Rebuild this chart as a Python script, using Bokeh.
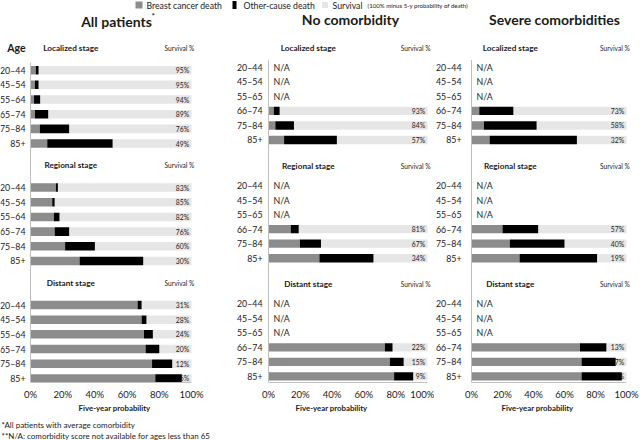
from bokeh.plotting import figure
from bokeh.layouts import column, row
from bokeh.models import Range1d, LinearAxis, FixedTicker, PrintfTickFormatter, ColumnDataSource
from bokeh.core.properties import value
from bokeh.embed import file_html
from bokeh.resources import INLINE

FONT = value("Lato")
TXT = "#1a1a1a"
C_BREAST = "#8c8c8c"
C_OTHER = "#000000"
C_SURV = "#e6e6e6"
C_AXIS = "#bfbfbf"

# ---------------- data ----------------
stages = ["Localized stage", "Regional stage", "Distant stage"]
ages_all = ["20–44", "45–54", "55–64", "65–74", "75–84", "85+"]
ages_com = ["20–44", "45–54", "55–65", "66–74", "75–84", "85+"]
ticks = [0, 20, 40, 60, 80, 100]

# All patients (Localized, Regional, Distant; 6 age groups each)
all_breast = [3.3, 2.8, 2.2, 2.8, 5.8, 10.4,
              15.8, 13.5, 14.5, 15.0, 21.5, 30.5,
              66.5, 69.0, 70.5, 71.5, 75.5, 77.5]
all_other = [1.7, 2.2, 3.8, 8.2, 18.2, 40.6,
             1.2, 1.5, 3.5, 9.0, 18.5, 39.5,
             2.5, 3.0, 5.5, 8.5, 12.5, 16.5]
all_survival = [95, 95, 94, 89, 76, 49,
                83, 85, 82, 76, 60, 30,
                31, 28, 24, 20, 12, 6]

# No comorbidity (None = N/A)
none_breast = [None, None, None, 3.3, 4.3, 9.8,
               None, None, None, 14.0, 19.8, 32.0,
               None, None, None, 73.2, 76.3, 79.0]
none_other = [None, None, None, 3.7, 11.7, 33.2,
              None, None, None, 5.0, 13.2, 34.0,
              None, None, None, 4.8, 8.7, 12.0]
none_survival = [None, None, None, 93, 84, 57,
                 None, None, None, 81, 67, 34,
                 None, None, None, 22, 15, 9]

# Severe comorbidities (None = N/A)
severe_breast = [None, None, None, 5.0, 8.0, 11.7,
                 None, None, None, 20.0, 24.7, 31.0,
                 None, None, None, 70.0, 71.0, 71.0]
severe_other = [None, None, None, 22.0, 34.0, 56.3,
                None, None, None, 23.0, 35.3, 50.0,
                None, None, None, 17.0, 22.0, 26.0]
severe_survival = [None, None, None, 73, 58, 32,
                   None, None, None, 57, 40, 19,
                   None, None, None, 13, 7, 3]

# ---------------- layout constants ----------------
HEAD_H = 30
PANEL_H = 385
FOOT_H = 25


def make_panel(ages, breast, other, survival, width, xs, xe, gap, show_age,
               y_top, y_bottom, stage_step, header_off, border_bottom):
    p = figure(width=width, height=PANEL_H, x_range=Range1d(xs, xe),
               y_range=Range1d(y_bottom, y_top), output_backend="svg",
               toolbar_location=None, x_axis_type=None, y_axis_type=None,
               min_border_left=0, min_border_right=0, min_border_top=0,
               min_border_bottom=border_bottom)
    p.outline_line_color = None
    p.background_fill_color = "white"

    ys_all, lab_all = [], []
    na_y = []
    bar = dict(y=[], b0=[], b1=[], o1=[], s1=[], lab=[])
    for s in range(3):
        for i in range(6):
            k = s * 6 + i
            y = s * stage_step + i
            ys_all.append(y)
            lab_all.append(ages[i])
            if breast[k] is None:
                na_y.append(y)
            else:
                b1 = breast[k]
                o1 = b1 + other[k]
                s1 = o1 + survival[k]
                bar["y"].append(y)
                bar["b0"].append(0)
                bar["b1"].append(b1)
                bar["o1"].append(o1)
                bar["s1"].append(s1)
                bar["lab"].append(f"{survival[k]}%")
    src = ColumnDataSource(bar)
    p.hbar(y="y", left="o1", right="s1", height=0.58, color=C_SURV, line_color=None, source=src)
    p.hbar(y="y", left="b0", right="b1", height=0.58, color=C_BREAST, line_color=None, source=src)
    p.hbar(y="y", left="b1", right="o1", height=0.58, color=C_OTHER, line_color=None, source=src)
    p.text(x=98.5, y="y", text="lab", source=src, text_font=FONT, text_font_size="6.8px",
           text_align="right", text_baseline="middle", text_color=TXT)

    # vertical axis line
    p.segment(x0=[0], y0=[-0.5], x1=[0], y1=[y_bottom], line_color=C_AXIS, line_width=1)

    # age labels
    p.text(x=[0] * len(ys_all), y=ys_all, text=lab_all, text_font=FONT, text_font_size="8.8px",
           text_align="right", text_baseline="middle", x_offset=-gap, text_color=TXT)
    if na_y:
        p.text(x=[0] * len(na_y), y=na_y, text=["N/A"] * len(na_y), text_font=FONT,
               text_font_size="8.8px", text_align="left", text_baseline="middle",
               x_offset=5, text_color=TXT)

    hy = [s * stage_step + header_off for s in range(3)]
    p.text(x=[25] * 3, y=hy, text=stages, text_font=FONT, text_font_size="8.2px",
           text_font_style="bold", text_align="center", text_baseline="middle", text_color=TXT)
    p.text(x=[92.5] * 3, y=hy, text=["Survival %"] * 3, text_font=FONT, text_font_size="6.6px",
           text_align="center", text_baseline="middle", text_color=TXT)
    if show_age:
        p.text(x=[0], y=[header_off], text=["Age"], text_font=FONT, text_font_size="10.5px",
               text_font_style="bold", text_align="right", text_baseline="middle",
               x_offset=-gap, text_color=TXT)

    ax = LinearAxis(ticker=FixedTicker(ticks=ticks), bounds=(0, 100),
                    formatter=PrintfTickFormatter(format="%d%%"),
                    major_tick_line_color=None, minor_tick_line_color=None,
                    major_tick_out=0, minor_tick_out=0, major_tick_in=0, minor_tick_in=0,
                    axis_line_color=C_AXIS, major_label_standoff=6,
                    major_label_text_font="Lato", major_label_text_font_size="9.5px",
                    major_label_text_color=TXT)
    p.add_layout(ax, "below")
    ax2 = LinearAxis(ticker=FixedTicker(ticks=[]), bounds=(0, 74),
                     major_tick_line_color=None, minor_tick_line_color=None,
                     major_tick_out=0, minor_tick_out=0, major_tick_in=0, minor_tick_in=0,
                     axis_line_color=None, major_label_standoff=0,
                     axis_label="Five-year probability", axis_label_standoff=0,
                     axis_label_text_font="Lato", axis_label_text_font_size="7.8px",
                     axis_label_text_font_style="bold", axis_label_text_color=TXT)
    p.add_layout(ax2, "below")
    return p


p1 = make_panel(ages_all, all_breast, all_other, all_survival, 228, -18.63, 122.98, 5, True,
                y_top=-2.703, y_bottom=21.28, stage_step=8.0, header_off=-1.52, border_bottom=30)
p2 = make_panel(ages_com, none_breast, none_other, none_survival, 206, -25.16, 104.4, 6, False,
                y_top=-2.543, y_bottom=21.72, stage_step=8.15, header_off=-1.35, border_bottom=32)
p3 = make_panel(ages_com, severe_breast, severe_other, severe_survival, 206, -23.87, 109.03, 10, False,
                y_top=-2.543, y_bottom=21.72, stage_step=8.15, header_off=-1.35, border_bottom=32)

# ---------------- header (legend + titles) ----------------
head = figure(width=640, height=HEAD_H, x_range=Range1d(0, 640), y_range=Range1d(HEAD_H, 0),
              output_backend="svg", toolbar_location=None, x_axis_type=None, y_axis_type=None,
              min_border=0)
head.outline_line_color = None
head.rect(x=[138.5, 234, 324.5], y=[4.5, 4.5, 4.5], width=[7, 4, 6], height=[7, 8, 6],
          color=[C_BREAST, C_OTHER, C_SURV], line_color=None)
head.text(x=[146, 243, 332], y=[4.5] * 3, text=["Breast cancer death", "Other-cause death", "Survival"],
          text_font=FONT, text_font_size="8.7px", text_baseline="middle", text_color=TXT)
head.text(x=[367], y=[5], text=["(100% minus 5-y probability of death)"],
          text_font=FONT, text_font_size="6.1px", text_baseline="middle", text_color=TXT)
head.text(x=[116, 350, 554], y=[21, 19, 19],
          text=["All patients", "No comorbidity", "Severe comorbidities"],
          text_font=FONT, text_font_size="14px", text_font_style="bold",
          text_align="center", text_baseline="middle", text_color=TXT)
head.text(x=[151], y=[15], text=["*"], text_font=FONT, text_font_size="8px",
          text_font_style="bold", text_baseline="middle", text_color=TXT)

# ---------------- footnotes ----------------
foot = figure(width=640, height=FOOT_H, x_range=Range1d(0, 640), y_range=Range1d(FOOT_H, 0),
              output_backend="svg", toolbar_location=None, x_axis_type=None, y_axis_type=None,
              min_border=0)
foot.outline_line_color = None
foot.text(x=[1, 1], y=[9.5, 20],
          text=["*All patients with average comorbidity",
                "**N/A: comorbidity score not available for ages less than 65"],
          text_font=FONT, text_font_size="8px", text_baseline="middle", text_color=TXT)

layout = column(head, row(p1, p2, p3), foot)
open("out.html", "w").write(file_html(layout, INLINE))
